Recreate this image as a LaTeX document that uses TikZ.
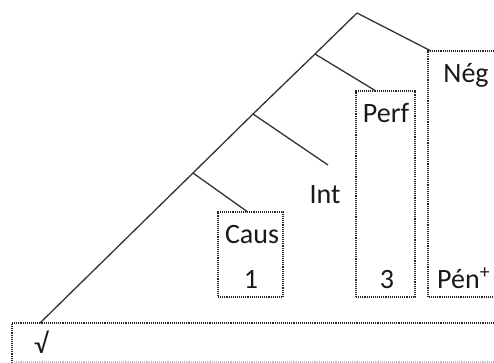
\documentclass[tikz,border=0pt]{standalone}
\usepackage{fontspec}
\setmainfont{Carlito}

\begin{document}
\begin{tikzpicture}[x=1pt,y=-1pt,
  branch/.style={gray!40!black,line width=1.3pt},
  box/.style={draw=gray!30!black,densely dotted,line width=1.1pt,inner sep=0pt},
  lbl/.style={anchor=base,inner sep=0pt,font=\fontsize{28}{32}\selectfont,text=black!90}]
\useasboundingbox (0,0) rectangle (494,363);
%tree
\coordinate (top) at (357,13);
\coordinate (perfnode) at (315,54);
\coordinate (intnode) at (253,114);
\coordinate (causnode) at (193,173);
\coordinate (root) at (40,323);
\coordinate (intend) at (328,165);
\draw[branch] (root) -- (causnode) -- (intnode) -- (perfnode) -- (top);
%boxes
\node[box,minimum width=65pt,minimum height=85pt] (causbox) at (250.5,254.5) {};
\node[box,minimum width=59pt,minimum height=206pt] (perfbox) at (385.5,194) {};
\coordinate (causin) at ([xshift=-3.5pt]causbox.north);
\coordinate (perfin) at ([xshift=-10.5pt]perfbox.north);
\coordinate (negin) at (431,51);
\draw[box] (494,51) -- (428,51) -- (428,297) -- (494,297);
\draw[box] (494,323) -- (12,323) -- (12,362);
\draw[box,draw=gray!50] (12,362) -- (494,362);
%branches
\draw[branch] (top) -- (negin);
\draw[branch] (perfnode) -- (perfin);
\draw[branch] (intnode) -- (intend);
\draw[branch] (causnode) -- (causin);
%labels
\node[lbl] (neg) at (466,83) {Nég};
\node[lbl] (perf) at (386,123) {Perf};
\node[lbl] (int) at (325,203) {Int};
\node[lbl] (caus) at (252,243) {Caus};
\node[lbl] (one) at (251,288) {1};
\node[lbl] (three) at (387,288) {3};
\node[lbl,anchor=base west] (pen) at (437,288) {Pén\textsuperscript{+}};
\node[lbl] (rac) at (41,353) {√};
\end{tikzpicture}
\end{document}
